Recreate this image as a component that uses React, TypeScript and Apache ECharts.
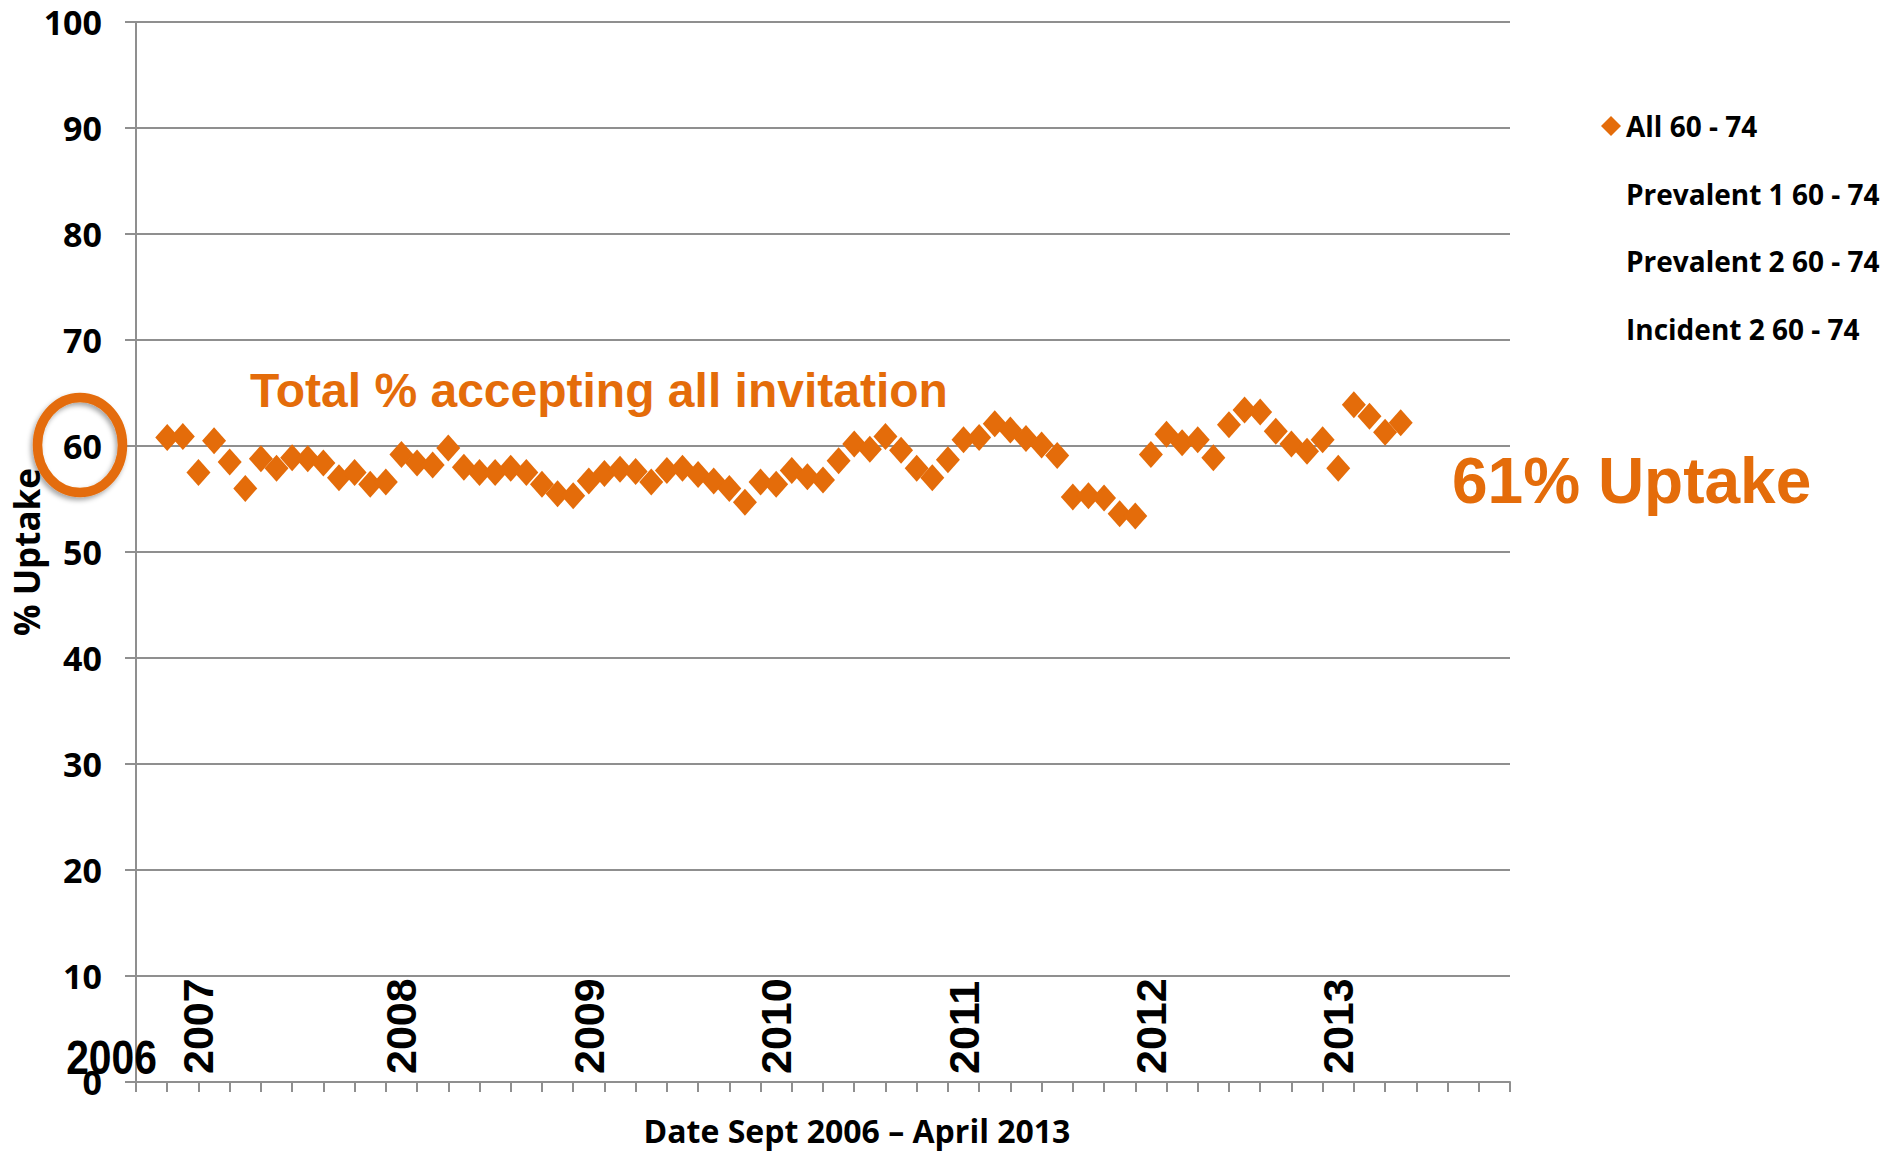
import React, { useEffect, useRef } from "react";
import * as echarts from "echarts";

// ---- data ----
const axisSlotCount = 89; // monthly slots on the category axis
const leadingEmptySlots = 2; // slots before Sept 2006
const uptakeAll = [
  60.8, 60.9, 57.5, 60.5, 58.5, 56.0, 58.8, 57.9, 58.9, 58.8,
  58.4, 57.0, 57.5, 56.4, 56.6, 59.2, 58.4, 58.2, 59.8, 58.0,
  57.5, 57.5, 57.9, 57.5, 56.4, 55.5, 55.3, 56.7, 57.4, 57.8,
  57.6, 56.6, 57.7, 57.9, 57.3, 56.7, 56.0, 54.7, 56.6, 56.4,
  57.7, 57.1, 56.8, 58.6, 60.2, 59.7, 60.9, 59.6, 57.9, 57.0,
  58.7, 60.6, 60.8, 62.1, 61.5, 60.7, 60.1, 59.1, 55.2, 55.3,
  55.1, 53.6, 53.4, 59.2, 61.1, 60.3, 60.6, 58.9, 62.0, 63.4,
  63.2, 61.4, 60.2, 59.5, 60.6, 57.9, 63.9, 62.8, 61.3, 62.2,
];
const yearLabels = ["2007", "2008", "2009", "2010", "2011", "2012", "2013"];
const yearLabelSlots = [4, 17, 29, 41, 53, 65, 77];
const legendNames = ["All 60 - 74", "Prevalent 1 60 - 74", "Prevalent 2 60 - 74", "Incident 2 60 - 74"];
const yMin = 0;
const yMax = 100;
const yInterval = 10;
const titleText = "Total % accepting all invitation";
const uptakeText = "61% Uptake";
const startYearText = "2006";
const xAxisTitle = "Date Sept 2006 \u2013 April 2013";
const yAxisTitle = "% Uptake";

const ORANGE = "#E46C0A";
const GREY = "#8f8f8f";
const LABEL_FONT = "'Open Sans', Lato, sans-serif";
const ARIAL = "'Liberation Sans', Arial, sans-serif";

export default function App() {
  const ref = useRef<HTMLDivElement>(null);
  useEffect(() => {
    if (!ref.current) return;
    const chart = echarts.init(ref.current, undefined, { renderer: "svg" });
    const slots = Array.from({ length: axisSlotCount }, (_, i) => String(i));
    const data = [...Array(leadingEmptySlots).fill("-"), ...uptakeAll];
    const option: any = {
      animation: false,
      backgroundColor: "#ffffff",
      grid: {
        left: 136,
        top: 22,
        width: 1374,
        height: 1060,
        containLabel: false,
        outerBoundsMode: "none",
      },
      legend: {
        orient: "vertical",
        left: 1601,
        top: 112,
        padding: 0,
        itemWidth: 20,
        itemHeight: 20,
        itemGap: 39.5,
        selectedMode: false,
        textStyle: { fontFamily: LABEL_FONT, fontWeight: "bold", fontSize: 28, color: "#000" },
        data: legendNames,
      },
      xAxis: {
        type: "category",
        data: slots,
        boundaryGap: false,
        axisLine: { show: true, lineStyle: { color: GREY, width: 2 } },
        axisTick: { show: true, interval: 1, length: 10, lineStyle: { color: GREY, width: 2 } },
        axisLabel: {
          interval: 0,
          inside: true,
          rotate: 90,
          margin: 8,
          formatter: (_v: string, index: number) => {
            const k = yearLabelSlots.indexOf(index);
            return k >= 0 ? yearLabels[k] : "";
          },
          fontFamily: ARIAL,
          fontWeight: "bold",
          fontSize: 43,
          color: "#000",
        },
        splitLine: { show: false },
        name: xAxisTitle,
        nameLocation: "middle",
        nameGap: 32,
        nameTextStyle: { fontFamily: LABEL_FONT, fontWeight: "bold", fontSize: 32, color: "#000", padding: [0, 0, 0, 68] },
      },
      yAxis: {
        type: "value",
        min: yMin,
        max: yMax,
        interval: yInterval,
        axisLine: { show: true, lineStyle: { color: GREY, width: 2 } },
        axisTick: { show: true, length: 11, lineStyle: { color: GREY, width: 2 } },
        axisLabel: { margin: 34, fontFamily: LABEL_FONT, fontWeight: "bold", fontSize: 34, color: "#000" },
        splitLine: { show: true, lineStyle: { color: GREY, width: 2 } },
        name: yAxisTitle,
        nameLocation: "middle",
        nameRotate: 90,
        nameGap: 92,
        nameMoveOverlap: false,
        nameTextStyle: { fontFamily: LABEL_FONT, fontWeight: "bold", fontSize: 35, color: "#000" },
      },
      series: [
        {
          name: legendNames[0],
          type: "scatter",
          symbol: "diamond",
          symbolSize: [24, 27],
          itemStyle: { color: ORANGE, opacity: 1 },
          data,
        },
        ...legendNames.slice(1).map((n) => ({
          name: n,
          type: "scatter",
          symbol: "diamond",
          itemStyle: { color: "rgba(0,0,0,0)" },
          data: [],
        })),
      ],
      graphic: [
        {
          type: "ellipse",
          shape: { cx: 80, cy: 445, rx: 42.5, ry: 47.5 },
          style: {
            fill: "none",
            stroke: ORANGE,
            lineWidth: 9.5,
            shadowBlur: 5,
            shadowColor: "rgba(0,0,0,0.35)",
            shadowOffsetX: -2,
            shadowOffsetY: 3,
          },
          z: 100,
        },
        {
          type: "text",
          x: 250,
          y: 390,
          style: {
            text: titleText,
            fill: ORANGE,
            fontFamily: ARIAL,
            fontWeight: "bold",
            fontSize: 48,
            align: "left",
            verticalAlign: "middle",
          },
          z: 100,
        },
        {
          type: "text",
          x: 1452,
          y: 481,
          style: {
            text: uptakeText,
            fill: ORANGE,
            fontFamily: ARIAL,
            fontWeight: "bold",
            fontSize: 64,
            align: "left",
            verticalAlign: "middle",
          },
          z: 100,
        },
        {
          type: "text",
          x: 111.5,
          y: 1057,
          scaleX: 0.85,
          style: {
            text: startYearText,
            fill: "#000",
            fontFamily: ARIAL,
            fontWeight: "bold",
            fontSize: 48,
            align: "center",
            verticalAlign: "middle",
          },
          z: 100,
        },
      ],
    };
    chart.setOption(option);
    return () => chart.dispose();
  }, []);
  return (
    <div
      ref={ref}
      style={{ position: "absolute", left: 0, top: 0, width: 1884, height: 1152, background: "#fff" }}
    />
  );
}
